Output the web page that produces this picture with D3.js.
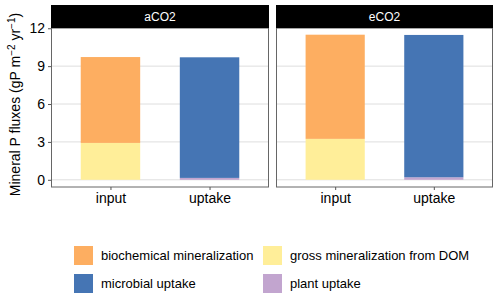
<!DOCTYPE html>
<html>
<head>
<meta charset="utf-8">
<script src="https://cdn.jsdelivr.net/npm/d3@7"></script>
<style>
  body { margin: 0; background: #fff; }
  text { font-family: "Liberation Sans", Arial, sans-serif; }
</style>
</head>
<body>
<div id="viz"></div>
<script>
// data
var panels = ["aCO2", "eCO2"];
var categories = ["input", "uptake"];
var biochemical = [6.8, 8.25];      // input, top segment
var grossDOM = [2.92, 3.24];        // input, bottom segment
var microbial = [9.55, 11.27];      // uptake, top segment
var plantUptake = [0.15, 0.2];      // uptake, bottom segment
var yTicks = [0, 3, 6, 9, 12];

var legendLabels = ["biochemical mineralization", "gross mineralization from DOM", "microbial uptake", "plant uptake"];
var colors = {
  "biochemical mineralization": "#fdae61",
  "gross mineralization from DOM": "#ffee99",
  "microbial uptake": "#4575b4",
  "plant uptake": "#c2a5cf"
};

var W = 500, H = 299;
var svg = d3.select("#viz").append("svg")
  .attr("width", W).attr("height", H);

var panelTop = 28, panelBottom = 187;
var stripH = 23;
var panelX = [[51, 269], [276, 493]];

var y = d3.scaleLinear().domain([-0.57, 12.02]).range([panelBottom, panelTop]);

panels.forEach(function(p, i) {
  var span = panelX[i][1] - panelX[i][0];
  // ggplot-like discrete scale: positions 1,2 on [0.4, 2.6], bar width 0.6
  var pos = d3.scalePoint().domain(categories).range([
    panelX[i][0] + (0.6 / 2.2) * span,
    panelX[i][0] + (1.6 / 2.2) * span
  ]);
  var bw = 0.6 / 2.2 * span;

  var g = svg.append("g");

  // grid
  g.selectAll(".grid").data(yTicks).enter().append("line")
    .attr("x1", panelX[i][0]).attr("x2", panelX[i][1])
    .attr("y1", function(d) { return y(d); })
    .attr("y2", function(d) { return y(d); })
    .attr("stroke", "#dedede").attr("stroke-width", 1);

  // stacked segments
  var segs = [
    { cat: "input", key: "gross mineralization from DOM", y0: 0, y1: grossDOM[i] },
    { cat: "input", key: "biochemical mineralization", y0: grossDOM[i], y1: grossDOM[i] + biochemical[i] },
    { cat: "uptake", key: "plant uptake", y0: 0, y1: plantUptake[i] },
    { cat: "uptake", key: "microbial uptake", y0: plantUptake[i], y1: plantUptake[i] + microbial[i] }
  ];
  g.selectAll(".bar").data(segs).enter().append("rect")
    .attr("x", function(d) { return pos(d.cat) - bw / 2; })
    .attr("width", bw)
    .attr("y", function(d) { return y(d.y1); })
    .attr("height", function(d) { return y(d.y0) - y(d.y1); })
    .attr("fill", function(d) { return colors[d.key]; });

  // panel border
  g.append("rect")
    .attr("x", panelX[i][0] + 0.5).attr("y", panelTop)
    .attr("width", span - 1)
    .attr("height", panelBottom - panelTop)
    .attr("fill", "none").attr("stroke", "#666").attr("stroke-width", 1);

  // strip
  g.append("rect")
    .attr("x", panelX[i][0]).attr("y", panelTop - stripH)
    .attr("width", span).attr("height", stripH)
    .attr("fill", "#000");
  g.append("text")
    .attr("x", (panelX[i][0] + panelX[i][1]) / 2).attr("y", panelTop - stripH / 2)
    .attr("dy", "0.35em").attr("text-anchor", "middle")
    .attr("fill", "#fff").style("font-size", "12px").text(p);

  // x axis
  var xa = svg.append("g")
    .attr("transform", "translate(0," + panelBottom + ")")
    .call(d3.axisBottom(pos).tickSize(3).tickPadding(3));
  xa.select(".domain").remove();
  xa.selectAll("line").attr("stroke", "#555");
  xa.selectAll("text").attr("fill", "#000").style("font-size", "14px")
    .style("font-family", "'Liberation Sans', Arial, sans-serif");
});

// y axis
var ya = svg.append("g")
  .attr("transform", "translate(" + panelX[0][0] + ",0)")
  .call(d3.axisLeft(y).tickValues(yTicks).tickSize(3).tickPadding(3));
ya.select(".domain").remove();
ya.selectAll("line").attr("stroke", "#555");
ya.selectAll("text").attr("fill", "#000").style("font-size", "14px")
  .style("font-family", "'Liberation Sans', Arial, sans-serif");

// y title
var yt = svg.append("text")
  .attr("transform", "translate(20," + ((panelTop + panelBottom) / 2 - 3) + ") rotate(-90)")
  .attr("text-anchor", "middle")
  .style("font-size", "14px");
yt.append("tspan").text("Mineral P fluxes (gP m");
yt.append("tspan").attr("dy", "-5").style("font-size", "10px").text("\u22122");
yt.append("tspan").attr("dy", "5").text(" yr");
yt.append("tspan").attr("dy", "-5").style("font-size", "10px").text("\u22121");
yt.append("tspan").attr("dy", "5").text(")");

// legend
var legX = [74, 263], legY = [246, 274], keyS = 19;
legendLabels.forEach(function(l, k) {
  var cx = legX[k % 2], cy = legY[Math.floor(k / 2)];
  svg.append("rect").attr("x", cx).attr("y", cy)
    .attr("width", keyS).attr("height", keyS).attr("fill", colors[l]);
  svg.append("text").attr("x", cx + 27).attr("y", cy + keyS / 2)
    .attr("dy", "0.35em").style("font-size", "13px").attr("fill", "#000").text(l);
});
</script>
</body>
</html>
